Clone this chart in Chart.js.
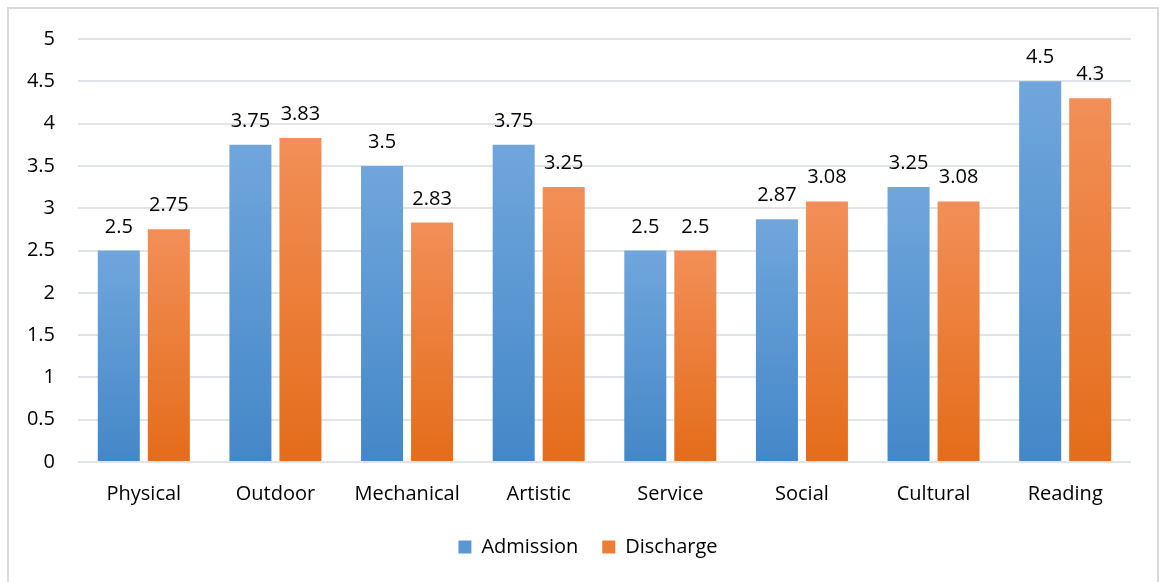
<!DOCTYPE html>
<html>
<head>
<meta charset="utf-8">
<script src="https://cdn.jsdelivr.net/npm/chart.js@4.4.1/dist/chart.umd.min.js"></script>
<style>
  html, body { margin: 0; padding: 0; background: #fff; }
  #wrap { position: relative; width: 1159px; height: 582px; }
</style>
</head>
<body>
<div id="wrap"><canvas id="interestChart" width="1159" height="582"></canvas></div>
<script>
const categories = ["Physical", "Outdoor", "Mechanical", "Artistic", "Service", "Social", "Cultural", "Reading"];
const admission = [2.5, 3.75, 3.5, 3.75, 2.5, 2.87, 3.25, 4.5];
const discharge = [2.75, 3.83, 2.83, 3.25, 2.5, 3.08, 3.08, 4.3];
const yTicks = [0, 0.5, 1, 1.5, 2, 2.5, 3, 3.5, 4, 4.5, 5];

const FONT = "'Open Sans', Calibri, Carlito, sans-serif";
const FONT_SIZE = 20;

// vertical gradient for each bar, from its top down to the zero line
function barGradient(topColor, bottomColor) {
  return function (ctx) {
    const chart = ctx.chart;
    const y = chart.scales.y;
    if (!y || ctx.type !== "data") return bottomColor;
    const top = y.getPixelForValue(ctx.raw);
    const base = y.getPixelForValue(0);
    if (!isFinite(top) || !isFinite(base) || top === base) return bottomColor;
    const g = chart.ctx.createLinearGradient(0, top, 0, base);
    g.addColorStop(0, topColor);
    g.addColorStop(1, bottomColor);
    return g;
  };
}

// light frame around the whole chart
const framePlugin = {
  id: "frame",
  beforeDraw(chart) {
    const c = chart.ctx;
    c.save();
    c.fillStyle = "#ffffff";
    c.fillRect(0, 0, chart.width, chart.height);
    c.strokeStyle = "#d9d9d9";
    c.lineWidth = 2;
    c.strokeRect(8, 8, chart.width - 9, chart.height + 10);
    c.restore();
  },
};

// value printed above every bar
const valueLabels = {
  id: "valueLabels",
  afterDatasetsDraw(chart) {
    const c = chart.ctx;
    c.save();
    c.font = FONT_SIZE + "px " + FONT;
    c.fillStyle = "#000000";
    c.textAlign = "center";
    c.textBaseline = "alphabetic";
    chart.data.datasets.forEach((ds, i) => {
      chart.getDatasetMeta(i).data.forEach((bar, j) => {
        c.fillText(String(ds.data[j]), bar.x, bar.y - 18);
      });
    });
    c.restore();
  },
};

new Chart(document.getElementById("interestChart"), {
  type: "bar",
  data: {
    labels: categories,
    datasets: [
      {
        label: "Admission",
        data: admission,
        backgroundColor: barGradient("#70a6dc", "#4487c8"),
        legendColor: "#5b97d3",
        borderWidth: 0,
      },
      {
        label: "Discharge",
        data: discharge,
        backgroundColor: barGradient("#f28f58", "#e46c1a"),
        legendColor: "#ec7c36",
        borderWidth: 0,
      },
    ],
  },
  options: {
    responsive: false,
    animation: false,
    categoryPercentage: 0.76,
    barPercentage: 0.84,
    layout: {
      padding: { left: 20, top: 39, right: 3, bottom: 15 },
    },
    plugins: {
      tooltip: { enabled: false },
      legend: {
        position: "bottom",
        labels: {
          font: { family: FONT, size: FONT_SIZE },
          color: "#000000",
          boxWidth: 13,
          boxHeight: 13,
          padding: 24,
          generateLabels(chart) {
            return chart.data.datasets.map((ds, i) => ({
              text: ds.label,
              fillStyle: ds.legendColor,
              strokeStyle: ds.legendColor,
              lineWidth: 0,
              hidden: false,
              datasetIndex: i,
            }));
          },
        },
      },
    },
    scales: {
      x: {
        grid: { display: false },
        border: { display: false },
        ticks: {
          font: { family: FONT, size: FONT_SIZE },
          color: "#000000",
          padding: 12,
        },
        afterFit(scale) {
          scale.height = 51;
        },
      },
      y: {
        min: 0,
        max: 5,
        afterBuildTicks(scale) {
          scale.ticks = yTicks.map((v) => ({ value: v }));
        },
        grid: {
          color: "#e0e3e7",
          lineWidth: 2,
          drawTicks: false,
        },
        border: { display: false },
        ticks: {
          font: { family: FONT, size: FONT_SIZE },
          color: "#000000",
          padding: 23,
          callback: (v) => String(v),
        },
        afterFit(scale) {
          scale.width = 58;
        },
      },
      // empty strip on the right so the plot stops short of the frame
      gutter: {
        type: "linear",
        position: "right",
        grid: { display: false },
        border: { display: false },
        ticks: { display: false },
        afterFit(scale) {
          scale.width = 25;
        },
      },
    },
  },
  plugins: [framePlugin, valueLabels],
});
</script>
</body>
</html>
